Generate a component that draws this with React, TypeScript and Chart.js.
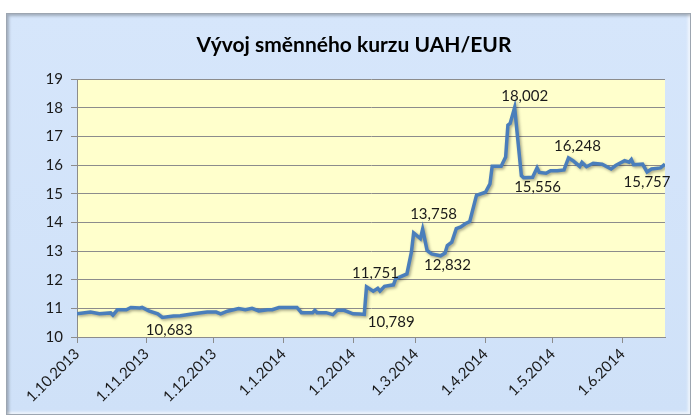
import React, { useEffect, useRef } from "react";
import { Chart, registerables } from "chart.js";

Chart.register(...registerables);

const TITLE = "Vývoj směnného kurzu UAH/EUR";
const AXIS_START = "2013-10-01";
const AXIS_END = "2014-06-20";

const monthTickDates = [
  "2013-10-01", "2013-11-01", "2013-12-01", "2014-01-01", "2014-02-01",
  "2014-03-01", "2014-04-01", "2014-05-01", "2014-06-01",
];
const monthTickLabels = [
  "1.10.2013", "1.11.2013", "1.12.2013", "1.1.2014", "1.2.2014",
  "1.3.2014", "1.4.2014", "1.5.2014", "1.6.2014",
];

const rateDates = [
  "2013-10-01", "2013-10-07", "2013-10-11", "2013-10-16", "2013-10-17", "2013-10-19",
  "2013-10-23", "2013-10-25", "2013-10-29", "2013-10-30", "2013-11-02", "2013-11-06",
  "2013-11-08", "2013-11-13", "2013-11-16", "2013-11-22", "2013-11-28", "2013-12-02",
  "2013-12-04", "2013-12-07", "2013-12-12", "2013-12-15", "2013-12-18", "2013-12-21",
  "2013-12-25", "2013-12-27", "2013-12-30", "2014-01-07", "2014-01-09", "2014-01-14",
  "2014-01-15", "2014-01-16", "2014-01-20", "2014-01-23", "2014-01-25", "2014-01-28",
  "2014-02-01", "2014-02-04", "2014-02-06", "2014-02-07", "2014-02-10", "2014-02-12",
  "2014-02-13", "2014-02-15", "2014-02-19", "2014-02-20", "2014-02-25", "2014-02-27",
  "2014-02-28", "2014-03-03", "2014-03-04", "2014-03-06", "2014-03-08", "2014-03-12",
  "2014-03-14", "2014-03-15", "2014-03-17", "2014-03-19", "2014-03-21", "2014-03-23",
  "2014-03-25", "2014-03-28", "2014-04-01", "2014-04-03", "2014-04-04", "2014-04-08",
  "2014-04-10", "2014-04-11", "2014-04-12", "2014-04-14", "2014-04-17", "2014-04-18",
  "2014-04-22", "2014-04-24", "2014-04-25", "2014-04-28", "2014-04-30", "2014-05-03",
  "2014-05-06", "2014-05-08", "2014-05-10", "2014-05-13", "2014-05-14", "2014-05-16",
  "2014-05-19", "2014-05-23", "2014-05-27", "2014-05-29", "2014-06-02", "2014-06-04",
  "2014-06-05", "2014-06-06", "2014-06-10", "2014-06-12", "2014-06-14", "2014-06-18",
  "2014-06-20",
];
const rateValues = [
  10.81, 10.87, 10.81, 10.84, 10.76, 10.95,
  10.95, 11.03, 11.01, 11.03, 10.91, 10.81,
  10.683, 10.73, 10.74, 10.81, 10.87, 10.87,
  10.81, 10.9, 10.99, 10.95, 11.0, 10.91,
  10.95, 10.95, 11.03, 11.03, 10.85, 10.85,
  10.93, 10.85, 10.85, 10.78, 10.93, 10.93,
  10.81, 10.8, 10.789, 11.751, 11.6, 11.7,
  11.6, 11.77, 11.82, 12.03, 12.2, 12.96,
  13.63, 13.43, 13.758, 13.02, 12.9, 12.832,
  12.93, 13.19, 13.31, 13.78, 13.84, 13.95,
  14.03, 14.94, 15.05, 15.34, 15.96, 15.96,
  16.28, 17.39, 17.45, 18.002, 15.63, 15.556,
  15.57, 15.9, 15.74, 15.71, 15.8, 15.8,
  15.83, 16.248, 16.15, 15.95, 16.09, 15.94,
  16.06, 16.03, 15.86, 15.98, 16.15, 16.1,
  16.19, 16.01, 16.03, 15.757, 15.86, 15.9,
  16.03,
];

const labeledDates = [
  "2013-11-08", "2014-02-06", "2014-02-07", "2014-03-04", "2014-03-12",
  "2014-04-14", "2014-04-18", "2014-05-08", "2014-06-12",
];

const Y_MIN = 10;
const Y_MAX = 19;

const dayOf = (s: string) => {
  const [y, m, d] = s.split("-").map(Number);
  const [y0, m0, d0] = AXIS_START.split("-").map(Number);
  return Math.round((Date.UTC(y, m - 1, d) - Date.UTC(y0, m0 - 1, d0)) / 86400000);
};

// label placement relative to its point (style only)
const labelOffsets: [number, number][] = [
  [7, 13], [27, 8], [9, -14], [11, -15], [7, 9], [10, -11], [14, 9], [9, -12], [0, 10],
];

const FONT = "Lato, 'Open Sans', sans-serif";

export default function App() {
  const ref = useRef<HTMLCanvasElement | null>(null);

  useEffect(() => {
    if (!ref.current) return;
    const points = rateDates.map((d, i) => ({ x: dayOf(d), y: rateValues[i] }));
    const tickDays = monthTickDates.map(dayOf);

    const bgPlugin = {
      id: "plotBg",
      beforeDraw(chart: any) {
        const { ctx, chartArea } = chart;
        ctx.save();
        ctx.fillStyle = "#ffffcc";
        ctx.fillRect(chartArea.left, chartArea.top, chartArea.right - chartArea.left, chartArea.bottom - chartArea.top);
        ctx.restore();
      },
    };

    const shadowPlugin = {
      id: "lineShadow",
      beforeDatasetsDraw(chart: any) {
        const ctx = chart.ctx;
        ctx.save();
        ctx.shadowColor = "rgba(0,0,0,0.35)";
        ctx.shadowBlur = 3;
        ctx.shadowOffsetX = 1.5;
        ctx.shadowOffsetY = 1.5;
      },
      afterDatasetsDraw(chart: any) {
        chart.ctx.restore();
      },
    };

    const titleAndLabels = {
      id: "titleAndLabels",
      afterDraw(chart: any) {
        const { ctx, scales } = chart;
        ctx.save();
        ctx.fillStyle = "#000";
        ctx.font = `bold 21px ${FONT}`;
        ctx.textAlign = "center";
        ctx.textBaseline = "middle";
        ctx.fillText(TITLE, 347, 31);

        ctx.font = `15px ${FONT}`;
        ctx.fillStyle = "#1a1a1a";
        labeledDates.forEach((d, i) => {
          const idx = rateDates.indexOf(d);
          if (idx < 0) return;
          const v = rateValues[idx];
          const px = scales.x.getPixelForValue(dayOf(d));
          const py = scales.y.getPixelForValue(v);
          const [dx, dy] = labelOffsets[i];
          ctx.fillText(v.toFixed(3).replace(".", ","), px + dx, py + dy);
        });
        ctx.restore();
      },
    };

    const chart = new Chart(ref.current, {
      type: "line",
      data: {
        datasets: [
          {
            data: points,
            borderColor: "#4a7ebb",
            borderWidth: 3.5,
            pointRadius: 0,
            tension: 0,
            fill: false,
          },
        ],
      },
      options: {
        responsive: false,
        animation: false,
        layout: { padding: { top: 65, right: 25, left: 0, bottom: 0 } },
        plugins: {
          legend: { display: false },
          title: { display: false },
          tooltip: { enabled: false },
        },
        scales: {
          x: {
            type: "linear",
            min: 0,
            max: dayOf(AXIS_END),
            afterBuildTicks(scale: any) {
              scale.ticks = tickDays.map((v) => ({ value: v }));
            },
            afterFit(scale: any) {
              scale.height = 77;
              scale.paddingLeft = 0;
              scale.paddingRight = 0;
            },
            ticks: {
              autoSkip: false,
              maxRotation: 45,
              minRotation: 45,
              color: "#1a1a1a",
              font: { family: FONT, size: 15 },
              padding: 2,
              callback(value: any) {
                const i = tickDays.indexOf(Number(value));
                return i >= 0 ? monthTickLabels[i] : "";
              },
            },
            grid: {
              display: true,
              drawOnChartArea: false,
              drawTicks: true,
              tickLength: 6,
              color: "#8c8c8c",
            },
            border: { display: true, color: "#8c8c8c", width: 1 },
          },
          y: {
            min: Y_MIN,
            max: Y_MAX,
            afterFit(scale: any) {
              scale.width = 70;
              scale.paddingTop = 0;
              scale.paddingBottom = 0;
            },
            ticks: {
              stepSize: 1,
              color: "#1a1a1a",
              font: { family: FONT, size: 15 },
              padding: 8,
            },
            grid: {
              color: "#8c8c8c",
              lineWidth: 1,
              drawTicks: true,
              tickLength: 6,
            },
            border: { display: true, color: "#8c8c8c", width: 1 },
          },
        },
      },
      plugins: [bgPlugin, shadowPlugin, titleAndLabels],
    } as any);

    return () => chart.destroy();
  }, []);

  return (
    <div style={{ position: "fixed", left: 0, top: 0, width: 695, height: 417, background: "#ffffff" }}>
      <div
        style={{
          position: "absolute",
          left: 6,
          top: 13,
          width: 683,
          height: 400,
          background: "linear-gradient(#d6e6fb, #cfe1f8)",
          border: "1px solid #9da6b1",
          boxShadow: "inset 2px 2px 3px rgba(0,0,0,0.25), inset -2px -2px 3px rgba(255,255,255,0.7)",
        }}
      >
        <canvas ref={ref} width={683} height={400} style={{ display: "block" }} />
      </div>
    </div>
  );
}
